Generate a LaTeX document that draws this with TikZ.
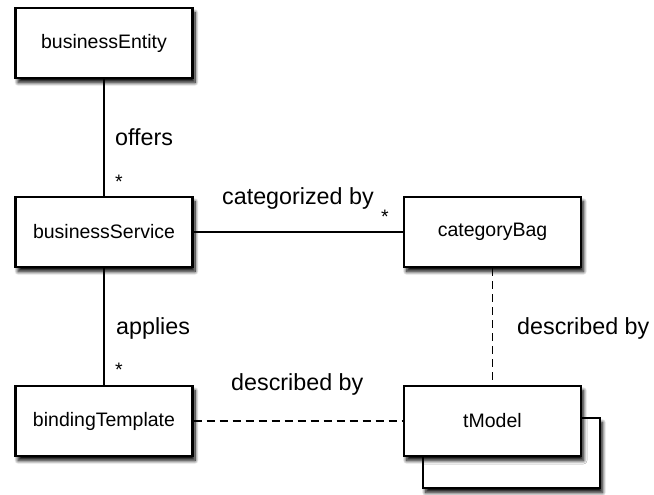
\documentclass[tikz,border=0pt]{standalone}
\usepackage{fontspec}
\setmainfont{Liberation Sans}
\usetikzlibrary{shadows.blur}
\begin{document}
\begin{tikzpicture}[x=1pt,y=-1pt,
  entity/.style={draw=black, line width=2.2pt, fill=white,
    minimum width=177pt, minimum height=70pt, inner sep=0pt,
    font=\fontsize{19.5}{22}\selectfont,
    blur shadow={shadow xshift=2.5pt, shadow yshift=-4.5pt,
      shadow blur radius=3.5pt, shadow blur steps=10, shadow opacity=100}},
  assoc/.style={line width=1.8pt, black},
  depends/.style={line width=1.8pt, black, dash pattern=on 8pt off 5pt},
  role/.style={anchor=base west, inner sep=0pt, font=\fontsize{23.3}{26}\selectfont},
  mult/.style={anchor=north, inner sep=0pt, font=\fontsize{19.5}{22}\selectfont}]
\useasboundingbox (0,0) rectangle (654,495);

% second tModel sheet behind the front one
\node[entity] (tmback) at (511.5,453) {};

\node[entity] (be) at (104,43)     {businessEntity};
\node[entity] (bs) at (104,232)    {businessService};
\node[entity] (bt) at (104,421)    {bindingTemplate};
\node[entity] (cb) at (492.5,232)  {categoryBag};
\node[entity] (tm) at (492.5,421)  {tModel};

% associations
\draw[assoc] (be) -- (bs);
\draw[assoc] (bs) -- (bt);
\draw[assoc] (bs) -- (cb);
\draw[depends] (cb) -- (tm);
\draw[depends] (bt) -- (tm);

% association labels and multiplicities
\node[role] (lo) at (115,146) {offers};
\node[mult] (mo) at (119,175) {*};
\node[role] (la) at (116,334) {applies};
\node[mult] (ma) at (119,363) {*};
\node[role] (lc) at (222,204) {categorized by};
\node[mult] (mc) at (385,210) {*};
\node[role] (ld1) at (517,334) {described by};
\node[role] (ld2) at (231,390) {described by};
\end{tikzpicture}
\end{document}
